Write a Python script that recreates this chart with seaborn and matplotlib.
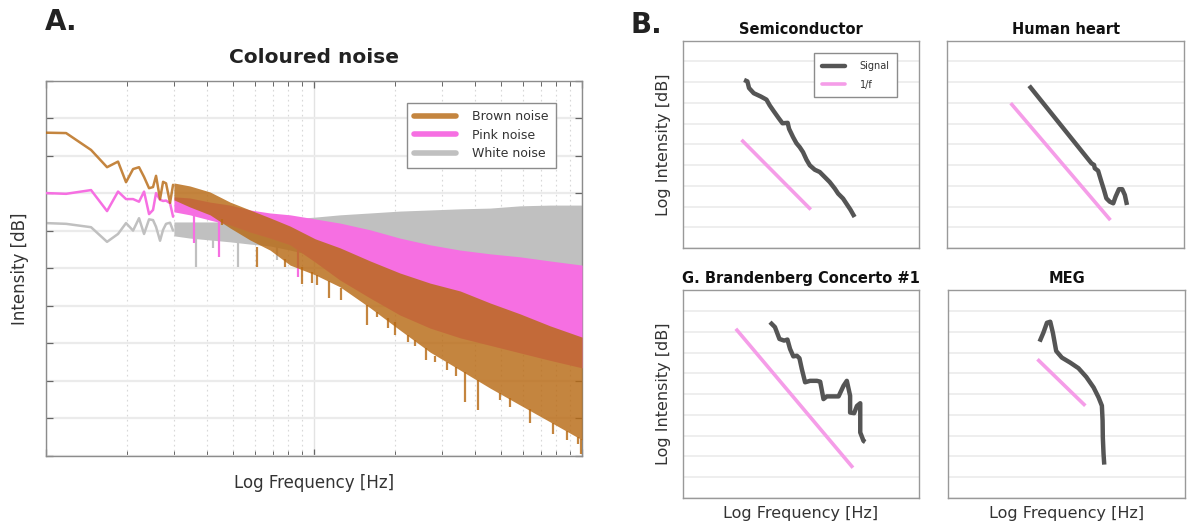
import matplotlib
matplotlib.use("Agg")
import matplotlib.pyplot as plt
import seaborn as sns
from matplotlib.lines import Line2D
from matplotlib.ticker import LogLocator, NullFormatter, MultipleLocator

sns.set_theme(style="white")
plt.rcParams['font.family'] = ['DejaVu Sans']

# ---------------- Panel A data (Coloured noise) ----------------
low_freq = [1.0, 1.188, 1.472, 1.689, 1.856, 1.988, 2.112, 2.223, 2.321, 2.423,
            2.507, 2.573, 2.663, 2.733, 2.804, 2.902, 2.978]
brown_low = [86.2, 86.1, 81.6, 77.0, 78.5, 73.0, 76.5, 77.0, 74.4, 71.4,
             71.7, 74.7, 68.5, 73.1, 72.7, 67.5, 72.3]
pink_low = [70.1, 69.9, 70.9, 65.3, 70.5, 68.5, 68.5, 67.8, 70.5, 64.5,
            65.6, 70.1, 68.3, 68.0, 68.1, 67.4, 63.8]
white_low = [62.1, 61.9, 61.0, 57.1, 59.2, 62.1, 60.1, 63.4, 59.2, 63.1,
             62.9, 61.1, 57.4, 60.3, 61.9, 62.2, 60.1]

band_freq = [3.0, 3.44, 4.09, 4.86, 5.77, 6.85, 8.14, 10.1, 12.5, 16.2,
             20.9, 27.1, 35.1, 45.4, 58.7, 76.0, 100.0]
brown_hi = [72.8, 72.0, 70.4, 67.7, 65.6, 63.5, 61.3, 57.9, 55.5, 52.0,
            48.8, 46.1, 44.0, 40.8, 37.9, 34.7, 31.7]
brown_lo = [68.3, 66.4, 64.3, 60.8, 57.6, 54.9, 50.9, 48.3, 45.1, 39.5,
            33.6, 27.7, 22.9, 18.1, 13.6, 9.1, 4.3]
pink_hi = [69.1, 68.8, 67.7, 66.9, 65.6, 64.8, 64.3, 63.2, 62.1, 60.3,
           58.1, 56.3, 54.9, 53.9, 53.1, 52.0, 50.9]
pink_lo = [65.1, 64.3, 62.9, 61.6, 59.7, 58.1, 56.3, 51.7, 46.9, 42.1,
           37.6, 34.1, 31.5, 29.5, 27.5, 25.5, 23.5]
white_hi = [62.4, 62.4, 62.4, 62.4, 62.7, 62.9, 63.2, 63.7, 64.3, 64.8,
            65.3, 65.6, 65.9, 66.1, 66.7, 66.9, 66.9]
white_lo = [58.7, 58.1, 57.6, 57.1, 56.5, 56.0, 54.9, 53.3, 51.7, 50.1,
            48.5, 46.9, 45.9, 45.1, 44.3, 43.5, 42.7]

brown_spike_freq = [4.54, 6.13, 7.79, 9.02, 9.80, 10.3, 11.4, 12.6, 15.8, 17.2,
                    18.9, 20.0, 22.4, 23.8, 26.2, 28.3, 31.3, 33.9, 36.6, 40.9,
                    49.4, 53.9, 64.0, 77.9, 87.9, 96.6, 99.1]
brown_spike_tip = [61.6, 50.4, 50.5, 45.9, 46.1, 45.6, 42.1, 41.6, 34.9, 37.1,
                   34.1, 32.3, 30.4, 29.3, 25.6, 25.1, 22.9, 21.3, 14.4, 12.3,
                   14.9, 13.1, 8.8, 5.9, 4.3, 3.2, 0.5]
brown_spike_base = [63.2, 55.7, 52.5, 50.4, 49.1, 48.3, 46.7, 44.8, 40.3, 38.4,
                    36.8, 35.7, 32.3, 30.9, 28.8, 26.7, 25.1, 23.7, 22.4, 20.3,
                    16.8, 15.5, 12.5, 8.8, 6.7, 5.1, 4.5]
pink_spike_freq = [3.55, 4.43, 8.75]
pink_spike_tip = [56.7, 53.1, 47.7]
pink_spike_base = [64.3, 62.4, 54.9]
white_spike_freq = [3.63, 4.20, 5.20, 7.28]
white_spike_tip = [50.4, 55.5, 50.4, 52.3]
white_spike_base = [58.1, 57.6, 56.8, 55.7]

noise_labels = ["Brown noise", "Pink noise", "White noise"]

# ---------------- Panel B data ----------------
semi_x = [2.59, 2.73, 2.80, 3.00, 3.30, 3.54, 3.68, 3.85, 4.05, 4.22, 4.44, 4.50,
          4.67, 4.81, 4.95, 5.09, 5.24, 5.38, 5.59, 5.80, 6.01, 6.22, 6.44, 6.58,
          6.79, 6.93, 7.10, 7.28]
semi_y = [8.11, 8.04, 7.72, 7.47, 7.31, 7.16, 6.88, 6.60, 6.28, 6.02, 6.04, 5.75,
          5.35, 5.06, 4.87, 4.63, 4.26, 3.99, 3.78, 3.67, 3.43, 3.19, 2.87, 2.63,
          2.39, 2.15, 1.86, 1.50]
semi_fit_x = [2.48, 5.42]
semi_fit_y = [5.22, 1.86]

heart_x = [3.46, 6.09, 6.20, 6.23, 6.37, 6.51, 6.62, 6.72, 6.86, 7.01, 7.11, 7.25,
           7.39, 7.50, 7.59]
heart_y = [7.83, 4.09, 4.01, 3.85, 3.73, 3.20, 2.80, 2.40, 2.24, 2.16, 2.48, 2.84,
           2.84, 2.56, 2.08]
heart_fit_x = [2.68, 6.89]
heart_fit_y = [6.99, 1.35]

bach_x = [3.69, 3.90, 4.09, 4.29, 4.43, 4.54, 4.68, 4.83, 4.94, 5.04, 5.18, 5.39,
          5.68, 5.82, 5.96, 6.10, 6.38, 6.60, 6.81, 6.95, 7.09, 7.09, 7.26, 7.38,
          7.52, 7.52, 7.66, 7.73]
bach_y = [8.47, 8.23, 7.66, 7.58, 7.63, 7.18, 6.82, 6.85, 6.73, 6.21, 5.57, 5.64,
          5.64, 5.60, 4.76, 4.89, 4.89, 4.89, 5.40, 5.64, 4.92, 4.11, 4.08, 4.43,
          4.56, 3.15, 2.74, 2.69]
bach_fit_x = [2.24, 7.21]
bach_fit_y = [8.15, 1.45]

meg_x = [3.85, 4.01, 4.16, 4.30, 4.41, 4.55, 4.79, 5.14, 5.49, 5.82, 6.13, 6.34,
         6.48, 6.51, 6.52, 6.55, 6.58]
meg_y = [7.53, 7.96, 8.44, 8.49, 7.96, 7.08, 6.76, 6.52, 6.25, 5.83, 5.32, 4.84,
         4.44, 3.72, 2.91, 2.12, 1.60]
meg_fit_x = [3.76, 5.78]
meg_fit_y = [6.68, 4.44]

panel_titles = ["Semiconductor", "Human heart", "G. Brandenberg Concerto #1", "MEG"]
series_labels = ["Signal", "1/f"]

# ---------------- Styles ----------------
BROWN = "#B86A14"
BROWN_ALPHA = 0.82
PINK = "#F66FE2"
WHITE_N = "#C0C0C0"
SIGNAL = "#555555"
FIT = "#F59DE8"
TXT = "#333333"
GRID = "#EBEBEB"
SPINE = "#8C8C8C"

fig = plt.figure(figsize=(11.9, 5.29), dpi=100)
fig.patch.set_facecolor("white")

# ---------------- Panel A ----------------
axA = fig.add_axes([0.0387, 0.138, 0.4504, 0.709])
axA.set_xscale("log")
axA.set_xlim(1, 100)
axA.set_ylim(0, 100)
axA.yaxis.set_major_locator(MultipleLocator(10))
axA.xaxis.set_major_locator(LogLocator(base=10))
axA.xaxis.set_minor_locator(LogLocator(base=10, subs=range(2, 10)))
axA.xaxis.set_minor_formatter(NullFormatter())
axA.yaxis.grid(True, color=GRID, lw=1.6, zorder=0)
axA.xaxis.grid(True, which="major", color="#E3E3E3", lw=1.0, zorder=0)
axA.xaxis.grid(True, which="minor", color="#D8D8D8", lw=0.8, ls=(0, (1.5, 3)), zorder=0)
axA.set_axisbelow(True)

layers = [
    (white_low, white_hi, white_lo, white_spike_freq, white_spike_tip, white_spike_base, WHITE_N, 1.0, 2),
    (pink_low, pink_hi, pink_lo, pink_spike_freq, pink_spike_tip, pink_spike_base, PINK, 1.0, 3),
    (brown_low, brown_hi, brown_lo, brown_spike_freq, brown_spike_tip, brown_spike_base, BROWN, BROWN_ALPHA, 4),
]
for low, hi, lo, sf, st, sb, col, al, z in layers:
    axA.fill_between(band_freq, lo, hi, color=col, alpha=al, lw=0, zorder=z)
    axA.vlines(sf, st, sb, color=col, alpha=al, lw=1.6, zorder=z)
    sns.lineplot(x=low_freq, y=low, ax=axA, color=col, alpha=al, linewidth=1.8,
                 sort=False, estimator=None, zorder=z)

axA.tick_params(which="both", direction="in", top=True, right=True, bottom=True, left=True,
                color="#666666", labelleft=False, labelbottom=False)
axA.tick_params(which="major", length=5, width=0.9)
axA.tick_params(which="minor", length=3.5, width=0.7)
for s in axA.spines.values():
    s.set_color(SPINE)
    s.set_linewidth(1.0)
    s.set_visible(True)

axA.set_title("Coloured noise", fontsize=14.5, fontweight="bold", color="#222222", pad=13)
axA.set_xlabel("Log Frequency [Hz]", fontsize=12, color=TXT, labelpad=13)
axA.set_ylabel("Intensity [dB]", fontsize=12, color=TXT, labelpad=12)

handlesA = [Line2D([], [], color=BROWN, alpha=BROWN_ALPHA, lw=4),
            Line2D([], [], color=PINK, lw=4),
            Line2D([], [], color=WHITE_N, lw=4)]
legA = axA.legend(handlesA, noise_labels, loc="upper right", bbox_to_anchor=(0.951, 0.942),
                  fontsize=9, frameon=True, fancybox=False, framealpha=1, edgecolor="#8C8C8C",
                  handlelength=3.3, handletextpad=1.3, labelspacing=0.45, borderpad=0.6,
                  borderaxespad=0)
legA.get_frame().set_linewidth(1.0)
for t in legA.get_texts():
    t.set_color(TXT)

fig.text(0.038, 0.958, "A.", fontsize=20, fontweight="bold", color="#222222",
         ha="left", va="center")
fig.text(0.530, 0.953, "B.", fontsize=20, fontweight="bold", color="#222222",
         ha="left", va="center")

# ---------------- Panel B ----------------
positions = [[0.574, 0.531, 0.198, 0.392],
             [0.796, 0.531, 0.199, 0.392],
             [0.574, 0.059, 0.198, 0.392],
             [0.797, 0.059, 0.199, 0.392]]
signals = [(semi_x, semi_y, semi_fit_x, semi_fit_y),
           (heart_x, heart_y, heart_fit_x, heart_fit_y),
           (bach_x, bach_y, bach_fit_x, bach_fit_y),
           (meg_x, meg_y, meg_fit_x, meg_fit_y)]

for i, (pos, (sx, sy, fx, fy), title) in enumerate(zip(positions, signals, panel_titles)):
    ax = fig.add_axes(pos)
    ax.set_xlim(0, 10)
    ax.set_ylim(0, 10)
    ax.yaxis.set_major_locator(MultipleLocator(1))
    ax.xaxis.set_major_locator(MultipleLocator(1))
    ax.yaxis.grid(True, color=GRID, lw=1.2)
    ax.xaxis.grid(False)
    ax.set_axisbelow(True)
    sns.lineplot(x=fx, y=fy, ax=ax, color=FIT, linewidth=2.6, sort=False,
                 estimator=None, solid_capstyle="butt")
    sns.lineplot(x=sx, y=sy, ax=ax, color=SIGNAL, linewidth=3.2, sort=False,
                 estimator=None, solid_capstyle="butt", solid_joinstyle="round")
    ax.tick_params(which="both", length=0, labelleft=False, labelbottom=False)
    for s in ax.spines.values():
        s.set_color("#999999")
        s.set_linewidth(1.0)
        s.set_visible(True)
    ax.set_title(title, fontsize=10.5, fontweight="bold", color="#111111", pad=5)
    if i in (0, 2):
        ax.set_ylabel("Log Intensity [dB]", fontsize=11.5, color=TXT, labelpad=9)
    if i in (2, 3):
        ax.set_xlabel("Log Frequency [Hz]", fontsize=11.5, color=TXT, labelpad=6)
    if i == 0:
        hB = [Line2D([], [], color=SIGNAL, lw=3.2), Line2D([], [], color=FIT, lw=2.6)]
        legB = ax.legend(hB, series_labels, loc="upper right", bbox_to_anchor=(0.91, 0.94),
                         fontsize=7, frameon=True, fancybox=False, framealpha=1,
                         edgecolor="#8C8C8C", handlelength=2.4, handletextpad=1.5,
                         labelspacing=0.9, borderpad=0.8, borderaxespad=0)
        legB.get_frame().set_linewidth(1.0)
        for t in legB.get_texts():
            t.set_color(TXT)

fig.savefig("out.png", dpi=100, facecolor="white")
